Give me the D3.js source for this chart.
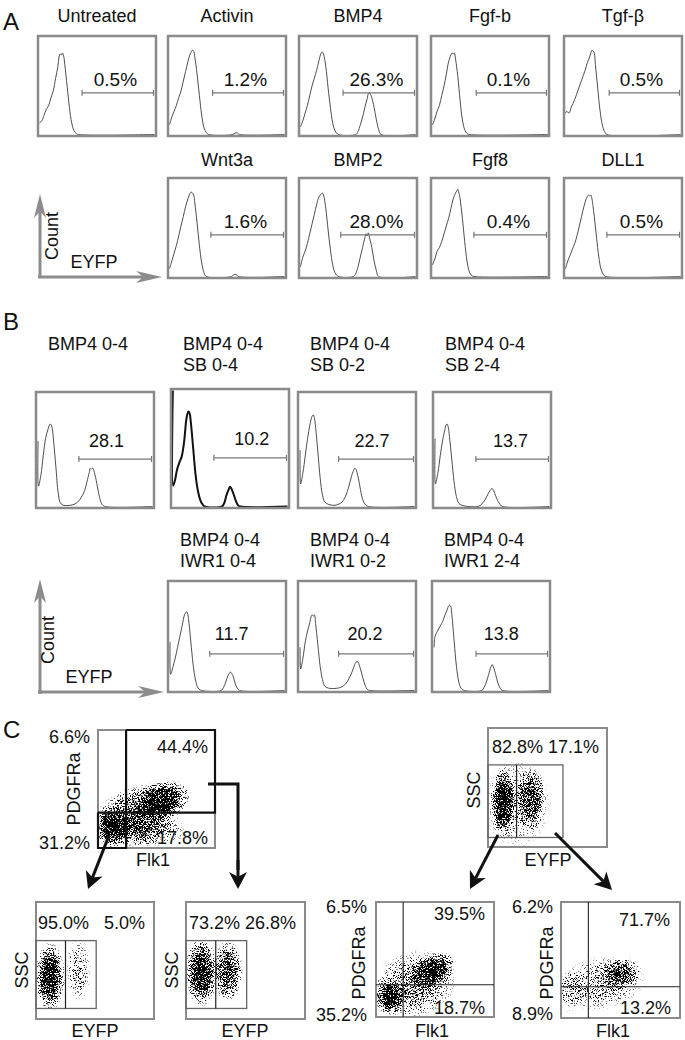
<!DOCTYPE html>
<html>
<head>
<meta charset="utf-8">
<script src="https://cdn.jsdelivr.net/npm/d3@7"></script>
<style>
  body { margin: 0; background: #fff; }
  svg { display: block; font-family: "Liberation Sans", Arial, Helvetica, sans-serif; }
</style>
</head>
<body>
<script>
// ---- panel A : titles, percentages, gate start (EYFP units 0-100)
var titlesA1 = ["Untreated", "Activin", "BMP4", "Fgf-b", "Tgf-β"],
    pctA1 = ["0.5%", "1.2%", "26.3%", "0.1%", "0.5%"],
    gateA1 = [37, 37.5, 37, 38, 38],
    titlesA2 = ["Wnt3a", "BMP2", "Fgf8", "DLL1"],
    pctA2 = ["1.6%", "28.0%", "0.4%", "0.5%"],
    gateA2 = [36, 35, 36, 36];

// histograms : [EYFP, count %]
var hUntreated = [[0,12],[2,14],[4,20],[6,26],[8,30],[10,38],[12,45],[14,58],[16,70],[17,80],[18,83],[19,82],[20,84],[21,81],[22,72],[24,50],[26,28],[28,12],[30,4],[32,1],[34,0],[100,0]],
    hActivin = [[0,10],[2,18],[4,24],[6,30],[8,38],[10,45],[12,55],[14,65],[16,75],[18,83],[20,87],[21,86],[22,80],[24,62],[26,40],[28,20],[30,7],[32,2],[34,0],[55,0],[57,1.5],[59,1.5],[61,0],[100,0]],
    hBMP4 = [[0,8],[2,14],[4,22],[6,30],[8,40],[10,50],[12,58],[14,66],[16,76],[18,84],[19,85],[20,83],[22,70],[24,48],[26,28],[28,12],[30,4],[33,0],[48,0],[50,3],[52,10],[54,18],[56,28],[58,37],[59,42],[60,43],[61,41],[62,38],[64,28],[66,15],[68,5],[70,0],[100,0]],
    hFgfb = [[0,10],[2,16],[4,24],[6,30],[8,40],[10,50],[12,62],[14,75],[16,82],[17,84],[18,83],[19,84],[20,78],[22,60],[24,35],[26,15],[28,5],[30,1],[32,0],[100,0]],
    hTgfb = [[0,22],[1,24],[3,22],[5,28],[8,36],[11,46],[14,56],[17,66],[19,74],[21,80],[22,84],[23,87],[24,86],[25,84],[26,72],[28,48],[30,25],[32,10],[34,3],[36,0],[100,0]],
    hWnt3a = [[0,8],[2,16],[4,24],[6,32],[8,42],[10,52],[12,62],[14,72],[16,80],[18,86],[19,87],[20,86],[21,84],[22,76],[24,55],[26,32],[28,14],[30,4],[32,0],[54,0],[56,2],[58,2],[60,0],[100,0]],
    hBMP2 = [[0,10],[2,20],[4,26],[6,34],[8,44],[10,54],[12,64],[14,74],[16,82],[18,85],[19,86],[20,84],[22,70],[24,48],[26,28],[28,12],[30,4],[33,0],[46,0],[48,3],[50,10],[52,20],[54,30],[56,40],[57,44],[58,42],[59,45],[60,40],[62,30],[64,16],[66,6],[68,0],[100,0]],
    hFgf8 = [[0,12],[2,18],[4,26],[6,30],[8,36],[10,44],[12,52],[14,60],[16,70],[18,80],[20,86],[21,88],[22,90],[23,86],[24,80],[26,60],[28,36],[30,16],[32,5],[34,1],[36,0],[100,0]],
    hDLL1 = [[0,8],[2,16],[4,22],[6,28],[8,34],[10,42],[12,52],[14,62],[16,72],[18,80],[20,84],[21,83],[22,84],[23,80],[25,62],[27,40],[29,20],[31,7],[33,2],[35,0],[100,0]];

// ---- panel B
var titlesB1 = [["BMP4 0-4"], ["BMP4 0-4", "SB 0-4"], ["BMP4 0-4", "SB 0-2"], ["BMP4 0-4", "SB 2-4"]],
    valB1 = ["28.1", "10.2", "22.7", "13.7"],
    gateB1 = [36, 36, 34, 36],
    titlesB2 = [["BMP4 0-4", "IWR1 0-4"], ["BMP4 0-4", "IWR1 0-2"], ["BMP4 0-4", "IWR1 2-4"]],
    valB2 = ["11.7", "20.2", "13.8"],
    gateB2 = [35, 34, 37];

var hB04 = [[0.5,58],[0.8,18],[3,28],[5,45],[7,60],[9,68],[11,73],[12,72],[13,68],[14,58],[16,35],[18,12],[20,3],[23,1],[28,1],[32,2],[35,4],[38,8],[41,14],[43,22],[45,30],[46,34],[47,33],[48,34],[50,28],[52,18],[54,8],[56,2],[59,0],[100,0]],
    hSB04 = [[0.3,100],[0.5,18],[2,22],[4,32],[6,38],[8,43],[10,55],[12,75],[13,80],[14,82],[15,80],[16,72],[18,50],[20,28],[22,14],[24,6],[26,2],[28,0],[43,0],[45,3],[47,10],[49,15],[50,17],[51,16],[53,11],[55,5],[57,1],[59,0],[100,0]],
    hSB02 = [[0.5,50],[1,20],[3,30],[5,45],[7,60],[9,72],[11,80],[12,81],[13,78],[14,70],[16,48],[18,25],[20,10],[22,4],[25,2],[30,1],[34,2],[37,4],[40,9],[43,18],[45,26],[47,32],[48,34],[49,33],[51,26],[53,15],[55,6],[57,2],[60,0],[100,0]],
    hSB24 = [[0.5,60],[0.8,20],[3,30],[5,45],[7,58],[9,68],[10,72],[11,73],[12,70],[13,62],[15,42],[17,22],[19,9],[21,3],[24,1],[30,0],[38,0],[41,2],[44,6],[47,12],[49,15],[50,16],[51,15],[53,10],[55,5],[57,2],[59,0],[100,0]],
    hIWR04 = [[0.5,45],[1,15],[3,22],[5,30],[7,40],[9,50],[11,60],[13,70],[14,72],[15,73],[16,70],[17,62],[19,40],[21,20],[23,8],[25,2],[28,0],[45,0],[47,3],[49,8],[51,14],[53,17],[55,14],[57,7],[59,2],[61,0],[100,0]],
    hIWR02 = [[0.5,40],[1,20],[3,30],[5,45],[7,55],[9,63],[10,68],[11,70],[12,69],[13,70],[14,62],[16,42],[18,22],[20,10],[22,4],[26,2],[32,2],[36,3],[40,6],[43,11],[46,18],[48,24],[50,27],[51,26],[53,20],[55,12],[57,5],[59,1],[61,0],[100,0]],
    hIWR24 = [[0.5,40],[1,48],[2,52],[4,56],[6,60],[8,64],[10,70],[12,75],[13,78],[14,79],[15,78],[16,70],[18,45],[20,22],[22,8],[24,2],[27,0],[42,0],[44,3],[46,8],[48,15],[50,22],[51,24],[52,22],[54,15],[56,7],[58,2],[60,0],[100,0]];

// ---- panel C : cell clouds [x, y, rx, ry, angle, density] in axis units 0-100
var cloudC1 = [[54,40,27,16,-20,1],[36,30,40,24,-15,0.7],[12,18,15,19,0,1],[36,14,42,14,0,0.5]],
    cloudC2 = [[13,38,11,30,0,1],[36,40,13,27,0,0.75],[24,36,30,38,0,0.3]],
    cloudC3 = [[12,36,13,30,0,1],[36,42,11,28,0,0.35]],
    cloudC4 = [[13,40,14,30,0,1],[35,41,13,27,0,0.8]],
    cloudC5 = [[12,17,13,15,0,1],[48,40,22,14,-30,0.95],[32,28,38,30,-20,0.55]],
    cloudC6 = [[50,38,18,14,-15,0.7],[34,30,38,24,-10,0.4],[8,24,12,20,0,0.3]];
var pctC1 = ["6.6%", "44.4%", "31.2%", "17.8%"],
    pctC2 = "82.8% 17.1%",
    pctC3 = ["95.0%", "5.0%"],
    pctC4 = "73.2% 26.8%",
    pctC5 = ["6.5%", "39.5%", "35.2%", "18.7%"],
    pctC6 = ["6.2%", "71.7%", "8.9%", "13.2%"];
// gates in axis units
var quadC1 = [24, 30], gateC2 = [0, 24, 63, 8, 69], gateC3 = [0, 25, 51, 9, 67], gateC4 = [0, 25, 51, 9, 67],
    quadC5 = [23, 28], quadC6 = [23, 27];

var W = 685, H = 1040;
var svg = d3.select("body").append("svg").attr("width", W).attr("height", H);
var defs = svg.append("defs");

// blob gradient for clouds
var rg = defs.append("radialGradient").attr("id", "blob");
[[0, 1], [0.5, 0.75], [0.85, 0.25], [1, 0]].forEach(function (s) {
  rg.append("stop").attr("offset", s[0]).attr("stop-color", "#000").attr("stop-opacity", s[1]);
});
// stipple filter: cloud density -> scattered dots
var flt = defs.append("filter").attr("id", "stipple").attr("filterUnits", "userSpaceOnUse")
  .attr("x", 0).attr("y", 0).attr("width", W).attr("height", H)
  .attr("color-interpolation-filters", "sRGB");
flt.append("feTurbulence").attr("type", "fractalNoise").attr("baseFrequency", 1.4)
  .attr("numOctaves", 1).attr("seed", 7).attr("result", "n");
flt.append("feColorMatrix").attr("in", "n").attr("type", "matrix")
  .attr("values", "0 0 0 0 0  0 0 0 0 0  0 0 0 0 0  3 0 0 0 -1.05").attr("result", "na");
flt.append("feComposite").attr("in", "SourceGraphic").attr("in2", "na").attr("operator", "arithmetic")
  .attr("k1", 0).attr("k2", 4).attr("k3", -4).attr("k4", 0);

var BOX = "#8a8a8a", AX = "#8c8c8c";

function label(g, x, y, t, size, anchor) {
  return g.append("text").attr("x", x).attr("y", y).attr("font-size", size)
    .attr("text-anchor", anchor || "middle").attr("fill", "#111").text(t);
}

// histogram box
function histo(x0, y0, w, h, pts, gate, gateLevel, txt, txtX, txtY, opt) {
  opt = opt || {};
  var g = svg.append("g");
  var x = d3.scaleLinear().domain([0, 100]).range([x0 + 1.5, x0 + w - 1.5]),
      y = d3.scaleLinear().domain([0, 100]).range([y0 + h - 1.5, y0 + 1.5]);
  g.append("path").datum(pts)
    .attr("d", d3.line().x(function (d) { return x(d[0]); }).y(function (d) { return y(d[1]); })
      .curve(d3.curveCatmullRom.alpha(0.5)))
    .attr("fill", "none").attr("stroke", opt.bold ? "#111" : "#3a3a3a")
    .attr("stroke-width", opt.bold ? 2 : 0.9);
  var gy = y(gateLevel);
  g.append("line").attr("x1", x(gate)).attr("x2", x(100) - 1).attr("y1", gy).attr("y2", gy)
    .attr("stroke", "#777").attr("stroke-width", 1.2);
  [x(gate), x(100) - 1].forEach(function (px) {
    g.append("line").attr("x1", px).attr("x2", px).attr("y1", gy - 3).attr("y2", gy + 3)
      .attr("stroke", "#777").attr("stroke-width", 1.2);
  });
  label(g, x(txtX), y(txtY), txt, opt.fs || 18, "middle");
  g.append("rect").attr("x", x0).attr("y", y0).attr("width", w).attr("height", h)
    .attr("fill", "none").attr("stroke", BOX).attr("stroke-width", 2.5);
}

function arrow(x1, y1, x2, y2, len, hw, color, sw) {
  var dx = x2 - x1, dy = y2 - y1, d = Math.sqrt(dx * dx + dy * dy), ux = dx / d, uy = dy / d,
      px = -uy, py = ux, bx = x2 - len * ux, by = y2 - len * uy,
      nx = x2 - 0.72 * len * ux, ny = y2 - 0.72 * len * uy;
  svg.append("line").attr("x1", x1).attr("y1", y1).attr("x2", nx).attr("y2", ny)
    .attr("stroke", color).attr("stroke-width", sw);
  svg.append("path").attr("d", "M" + x2 + "," + y2 + "L" + (bx + hw * px) + "," + (by + hw * py) +
    "L" + nx + "," + ny + "L" + (bx - hw * px) + "," + (by - hw * py) + "Z").attr("fill", color);
}

// ================= A =================
label(svg, 3, 30, "A", 24, "start");
var colsA1 = [38, 168, 299, 431, 564], colsA2 = [168, 299, 431, 564], wA = 118;
var histA1 = [hUntreated, hActivin, hBMP4, hFgfb, hTgfb], histA2 = [hWnt3a, hBMP2, hFgf8, hDLL1];
colsA1.forEach(function (cx, i) {
  label(svg, cx + wA / 2, 22, titlesA1[i], 18, "middle");
  histo(cx, 36, wA, 100, histA1[i], gateA1[i], 43, pctA1[i], 66, 50, {fs: 19});
});
colsA2.forEach(function (cx, i) {
  label(svg, cx + wA / 2, 166, titlesA2[i], 18, "middle");
  histo(cx, 178, wA, 100, histA2[i], gateA2[i], 43, pctA2[i], 66, 50, {fs: 19});
});
arrow(40, 278, 40, 194, 24, 6, AX, 3);
arrow(38, 277, 162, 277, 26, 6, AX, 3);
label(svg, 0, 0, "Count", 18, "middle").attr("transform", "translate(58,236) rotate(-90)");
label(svg, 94, 268, "EYFP", 18, "middle");

// ================= B =================
label(svg, 3, 330, "B", 24, "start");
var colsB1 = [36, 171, 298, 433], colsB2 = [168, 298, 432], wB = 118;
var histB1 = [hB04, hSB04, hSB02, hSB24], histB2 = [hIWR04, hIWR02, hIWR24];
var topB1 = [392, 389, 392, 392], txtXB1 = [60, 69, 63, 66], txtXB2 = [54, 57, 59];
colsB1.forEach(function (cx, i) {
  titlesB1[i].forEach(function (t, j) { label(svg, cx + 12, 350 + j * 21, t, 18, "start"); });
  histo(cx, topB1[i], wB, 508 - topB1[i], histB1[i], gateB1[i], 42, valB1[i], txtXB1[i], 53, {bold: i === 1});
});
colsB2.forEach(function (cx, i) {
  titlesB2[i].forEach(function (t, j) { label(svg, cx + 12, 546 + j * 21, t, 18, "start"); });
  histo(cx, 581, wB, 111, histB2[i], gateB2[i], 34, valB2[i], txtXB2[i], 47);
});
arrow(40, 694, 40, 579, 24, 6, AX, 3);
arrow(38, 692, 164, 692, 26, 6, AX, 3);
label(svg, 0, 0, "Count", 18, "middle").attr("transform", "translate(54,640) rotate(-90)");
label(svg, 89, 683, "EYFP", 18, "middle");

// ================= C =================
label(svg, 3, 738, "C", 24, "start");

function scatter(x0, y0, w, h, clouds) {
  var x = d3.scaleLinear().domain([0, 100]).range([x0, x0 + w]),
      y = d3.scaleLinear().domain([0, 100]).range([y0 + h, y0]);
  var id = "clip" + x0 + "_" + y0;
  defs.append("clipPath").attr("id", id).append("rect")
    .attr("x", x0 + 1).attr("y", y0 + 1).attr("width", w - 2).attr("height", h - 2);
  var g = svg.append("g").attr("clip-path", "url(#" + id + ")").append("g").attr("filter", "url(#stipple)");
  g.selectAll("ellipse").data(clouds).enter().append("ellipse")
    .attr("cx", function (d) { return x(d[0]); }).attr("cy", function (d) { return y(d[1]); })
    .attr("rx", function (d) { return x(d[2]) - x(0); }).attr("ry", function (d) { return y(0) - y(d[3]); })
    .attr("transform", function (d) { return "rotate(" + d[4] + "," + x(d[0]) + "," + y(d[1]) + ")"; })
    .attr("fill", "url(#blob)").attr("fill-opacity", function (d) { return d[5]; });
  svg.append("rect").attr("x", x0).attr("y", y0).attr("width", w).attr("height", h)
    .attr("fill", "none").attr("stroke", BOX).attr("stroke-width", 2);
  return {x: x, y: y};
}

// C1 : PDGFRa / Flk1 with bold gates
var s1 = scatter(98, 730, 117, 118, cloudC1);
svg.append("path").attr("d",
  "M" + s1.x(quadC1[0]) + "," + s1.y(100) + "H" + s1.x(100) + "V" + s1.y(quadC1[1]) + "H" + s1.x(0) +
  "M" + s1.x(quadC1[0]) + "," + s1.y(100) + "V" + s1.y(0) + "H" + s1.x(0) + "V" + s1.y(quadC1[1]))
  .attr("fill", "none").attr("stroke", "#111").attr("stroke-width", 2.2);
label(svg, 90, 743, pctC1[0], 18, "end");
label(svg, 208, 753, pctC1[1], 18, "end");
label(svg, 90, 849, pctC1[2], 18, "end");
label(svg, 208, 844, pctC1[3], 18, "end");
label(svg, 0, 0, "PDGFRa", 18, "middle").attr("transform", "translate(80,789) rotate(-90)");
label(svg, 153, 866, "Flk1", 18, "middle");

function ssGate(s, gt) {
  svg.append("rect").attr("x", s.x(gt[0])).attr("y", s.y(gt[4])).attr("width", s.x(gt[2]) - s.x(gt[0]))
    .attr("height", s.y(gt[3]) - s.y(gt[4])).attr("fill", "none").attr("stroke", "#666").attr("stroke-width", 1.3);
  svg.append("line").attr("x1", s.x(gt[1])).attr("x2", s.x(gt[1])).attr("y1", s.y(gt[4])).attr("y2", s.y(gt[3]))
    .attr("stroke", "#222").attr("stroke-width", 1.2);
}
function quad(s, q) {
  svg.append("line").attr("x1", s.x(q[0])).attr("x2", s.x(q[0])).attr("y1", s.y(0)).attr("y2", s.y(100))
    .attr("stroke", "#222").attr("stroke-width", 1.1);
  svg.append("line").attr("x1", s.x(0)).attr("x2", s.x(100)).attr("y1", s.y(q[1])).attr("y2", s.y(q[1]))
    .attr("stroke", "#222").attr("stroke-width", 1.1);
}

// C2 : SSC / EYFP top right
var s2 = scatter(488, 728, 119, 119, cloudC2);
ssGate(s2, gateC2);
label(svg, 492, 753, pctC2, 18, "start");
label(svg, 0, 0, "SSC", 18, "middle").attr("transform", "translate(480,790) rotate(-90)");
label(svg, 548, 866, "EYFP", 18, "middle");

// C3, C4 : SSC / EYFP bottom left
var s3 = scatter(36, 902, 118, 117, cloudC3);
ssGate(s3, gateC3);
label(svg, 38, 929, pctC3[0], 18, "start");
label(svg, 104, 929, pctC3[1], 18, "start");
label(svg, 0, 0, "SSC", 18, "middle").attr("transform", "translate(28,970) rotate(-90)");
label(svg, 95, 1037, "EYFP", 18, "middle");

var s4 = scatter(186, 902, 119, 117, cloudC4);
ssGate(s4, gateC4);
label(svg, 189, 929, pctC4, 18, "start");
label(svg, 0, 0, "SSC", 18, "middle").attr("transform", "translate(178,970) rotate(-90)");
label(svg, 245, 1037, "EYFP", 18, "middle");

// C5, C6 : PDGFRa / Flk1 bottom right
var s5 = scatter(376, 902, 118, 115, cloudC5);
quad(s5, quadC5);
label(svg, 367, 913, pctC5[0], 18, "end");
label(svg, 485, 920, pctC5[1], 18, "end");
label(svg, 367, 1021, pctC5[2], 18, "end");
label(svg, 485, 1014, pctC5[3], 18, "end");
label(svg, 0, 0, "PDGFRa", 18, "middle").attr("transform", "translate(365,963) rotate(-90)");
label(svg, 432, 1037, "Flk1", 18, "middle");

var s6 = scatter(561, 902, 119, 116, cloudC6);
quad(s6, quadC6);
label(svg, 553, 913, pctC6[0], 18, "end");
label(svg, 670, 926, pctC6[1], 18, "end");
label(svg, 553, 1020, pctC6[2], 18, "end");
label(svg, 671, 1014, pctC6[3], 18, "end");
label(svg, 0, 0, "PDGFRa", 18, "middle").attr("transform", "translate(553,963) rotate(-90)");
label(svg, 613, 1037, "Flk1", 18, "middle");

// gating arrows
arrow(108, 838, 88, 889, 17, 9, "#111", 3);
svg.append("polyline").attr("points", "208,784 238,784 238,870").attr("fill", "none")
  .attr("stroke", "#111").attr("stroke-width", 3);
arrow(238, 860, 238, 889, 17, 9, "#111", 3);
arrow(498, 835, 470, 889, 17, 9, "#111", 3);
arrow(555, 833, 612, 890, 17, 9, "#111", 3);
</script>
</body>
</html>
